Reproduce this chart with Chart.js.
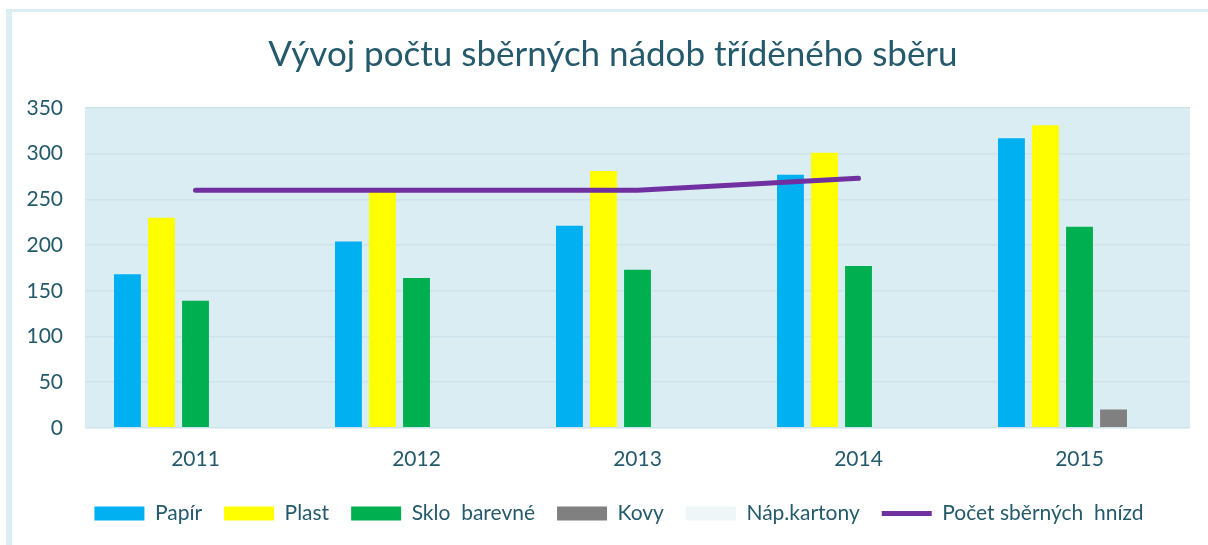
<!DOCTYPE html>
<html>
<head>
<meta charset="utf-8">
<script src="https://cdn.jsdelivr.net/npm/chart.js@4/dist/chart.umd.min.js"></script>
<style>
    html, body { margin: 0; padding: 0; background: #fff; }
    #wrap { position: relative; width: 1208px; height: 545px; }
    #frame {
        position: absolute; left: 6px; top: 9px; right: 0; bottom: 0;
        border-left: 6px solid #dcedf3; border-top: 3px solid #dcedf3;
    }
    #chartID { position: absolute; left: 0; top: 0; }
</style>
</head>
<body>
<div id="wrap">
    <div id="frame"></div>
    <canvas id="chartID" width="1208" height="545"></canvas>
</div>
<script>
var years = ['2011', '2012', '2013', '2014', '2015'];
var papir = [168, 204, 221, 277, 317];
var plast = [230, 258, 281, 301, 331];
var sklo = [139, 164, 173, 177, 220];
var kovy = [0, 0, 0, 0, 20];
var kartony = [0, 0, 0, 0, 0];
var hnizda = [260, 260, 260, 273, null];
var y_ticks = [0, 50, 100, 150, 200, 250, 300, 350];

var textColor = '#245a6b';
var font = 'Lato, "Open Sans", sans-serif';

// fills the plot area before the grid lines are drawn
var plotBackground = {
    id: 'plotBackground',
    beforeDraw: function(chart) {
        var a = chart.chartArea;
        var ctx = chart.ctx;
        ctx.save();
        ctx.fillStyle = '#daedf3';
        ctx.fillRect(a.left, a.top, a.right - a.left, a.bottom - a.top);
        ctx.restore();
    }
};

// title and legend sit a little right of the canvas centre in the original
var nudgeBoxes = {
    id: 'nudgeBoxes',
    afterLayout: function(chart) {
        chart.titleBlock.left += 18;
        chart.titleBlock.right += 18;
        chart.legend.left += 24;
        chart.legend.right += 24;
    }
};

function barSet(label, values, color) {
    return {
        type: 'bar',
        label: label,
        data: values,
        backgroundColor: color,
        borderWidth: 0,
        categoryPercentage: 0.77,
        barPercentage: 0.79,
        order: 2
    };
}

var datasets = [
    barSet('Papír', papir, '#00b0f0'),
    barSet('Plast', plast, '#ffff00'),
    barSet('Sklo  barevné', sklo, '#00b050'),
    barSet('Kovy', kovy, '#808080'),
    barSet('Náp.kartony', kartony, '#eef6f8'),
    {
        type: 'line',
        label: 'Počet sběrných  hnízd',
        data: hnizda,
        borderColor: '#7030a0',
        backgroundColor: '#7030a0',
        borderWidth: 5,
        borderCapStyle: 'round',
        pointRadius: 0,
        tension: 0,
        order: 1
    }
];

var config = {
    type: 'bar',
    data: { labels: years, datasets: datasets },
    options: {
        responsive: false,
        animation: false,
        layout: { padding: { left: 0, right: 18, top: 0, bottom: 11 } },
        plugins: {
            title: {
                display: true,
                text: 'Vývoj počtu sběrných nádob tříděného sběru',
                color: textColor,
                font: { family: font, size: 35, weight: 'normal' },
                padding: { top: 34, bottom: 32 }
            },
            legend: {
                position: 'bottom',
                labels: {
                    color: textColor,
                    font: { family: font, size: 21 },
                    usePointStyle: true,
                    pointStyleWidth: 50,
                    boxHeight: 14,
                    padding: 22,
                    sort: (a, b) => a.datasetIndex - b.datasetIndex,
                    generateLabels: function(chart) {
                        var items = Chart.defaults.plugins.legend.labels.generateLabels(chart);
                        items.forEach(function(item) {
                            var ds = chart.data.datasets[item.datasetIndex];
                            if (ds.type === 'line') {
                                item.pointStyle = 'line';
                                item.strokeStyle = ds.borderColor;
                                item.lineWidth = 5;
                            } else {
                                item.pointStyle = 'rect';
                                item.lineWidth = 0;
                            }
                        });
                        return items;
                    }
                }
            },
            tooltip: { enabled: false }
        },
        scales: {
            x: {
                grid: { display: false, drawTicks: false },
                border: { display: false },
                ticks: { color: textColor, font: { family: font, size: 21 }, padding: 19 },
                afterFit: function(scale) { scale.height = scale.height - 10; }
            },
            y: {
                min: 0,
                max: 350,
                afterBuildTicks: function(scale) {
                    scale.ticks = y_ticks.map(v => ({ value: v }));
                },
                afterFit: function(scale) { scale.width = 85; },
                grid: { color: '#cde4ec', drawTicks: false, lineWidth: 1.5 },
                border: { display: false },
                ticks: { color: textColor, font: { family: font, size: 21 }, padding: 22 }
            }
        }
    },
    plugins: [plotBackground, nudgeBoxes]
};

new Chart(document.getElementById('chartID'), config);
</script>
</body>
</html>
